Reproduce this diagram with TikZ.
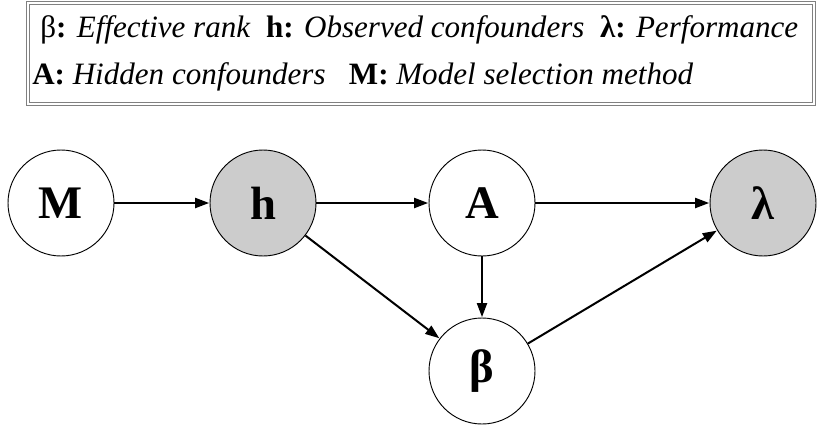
\documentclass[tikz,border=0pt]{standalone}
\usepackage{fontspec}
\setmainfont{Liberation Serif}
\usetikzlibrary{arrows.meta}
\begin{document}
\begin{tikzpicture}[x=0.75pt,y=-0.75pt,
  var/.style={circle,draw=black,line width=0.7pt,minimum size=79.5pt,inner sep=0pt,font=\fontsize{35}{40}\selectfont\bfseries},
  obs/.style={var,fill=black!20},
  conn/.style={line width=1.5pt,-{Triangle[length=10.5pt,width=7.5pt]},shorten >=0.3pt},
  legend/.style={anchor=base west,inner sep=0pt,font=\fontsize{23.3}{26}\selectfont}]
\useasboundingbox (0,0) rectangle (817,425);
\coordinate (boxnw) at (28,3);
\coordinate (boxse) at (814,104);
\draw[gray,double=white,double distance=1.2pt,line width=0.8pt] (boxnw) rectangle (boxse);
\node[legend] (l1) at (40,37) {β\textbf{:} \textit{Effective rank}\ \ \textbf{h:} \textit{Observed confounders}\ \ \textbf{λ:} \textit{Performance}};
\node[legend] (l2) at (32,84) {\textbf{A:} \textit{Hidden confounders}\ \ \ \textbf{M:} \textit{Model selection method}};
\node[var] (M) at (61,203) {M};
\node[obs] (h) at (263,203) {h};
\node[var] (A) at (482,203) {A};
\node[obs] (lam) at (763,203) {λ};
\node[var] (beta) at (482,371) {β};
\draw[conn] (M) -- (h);
\draw[conn] (h) -- (A);
\draw[conn] (A) -- (lam);
\draw[conn] (A) -- (beta);
\draw[conn] (h) -- (beta);
\draw[conn] (beta) -- (lam);
\end{tikzpicture}
\end{document}
